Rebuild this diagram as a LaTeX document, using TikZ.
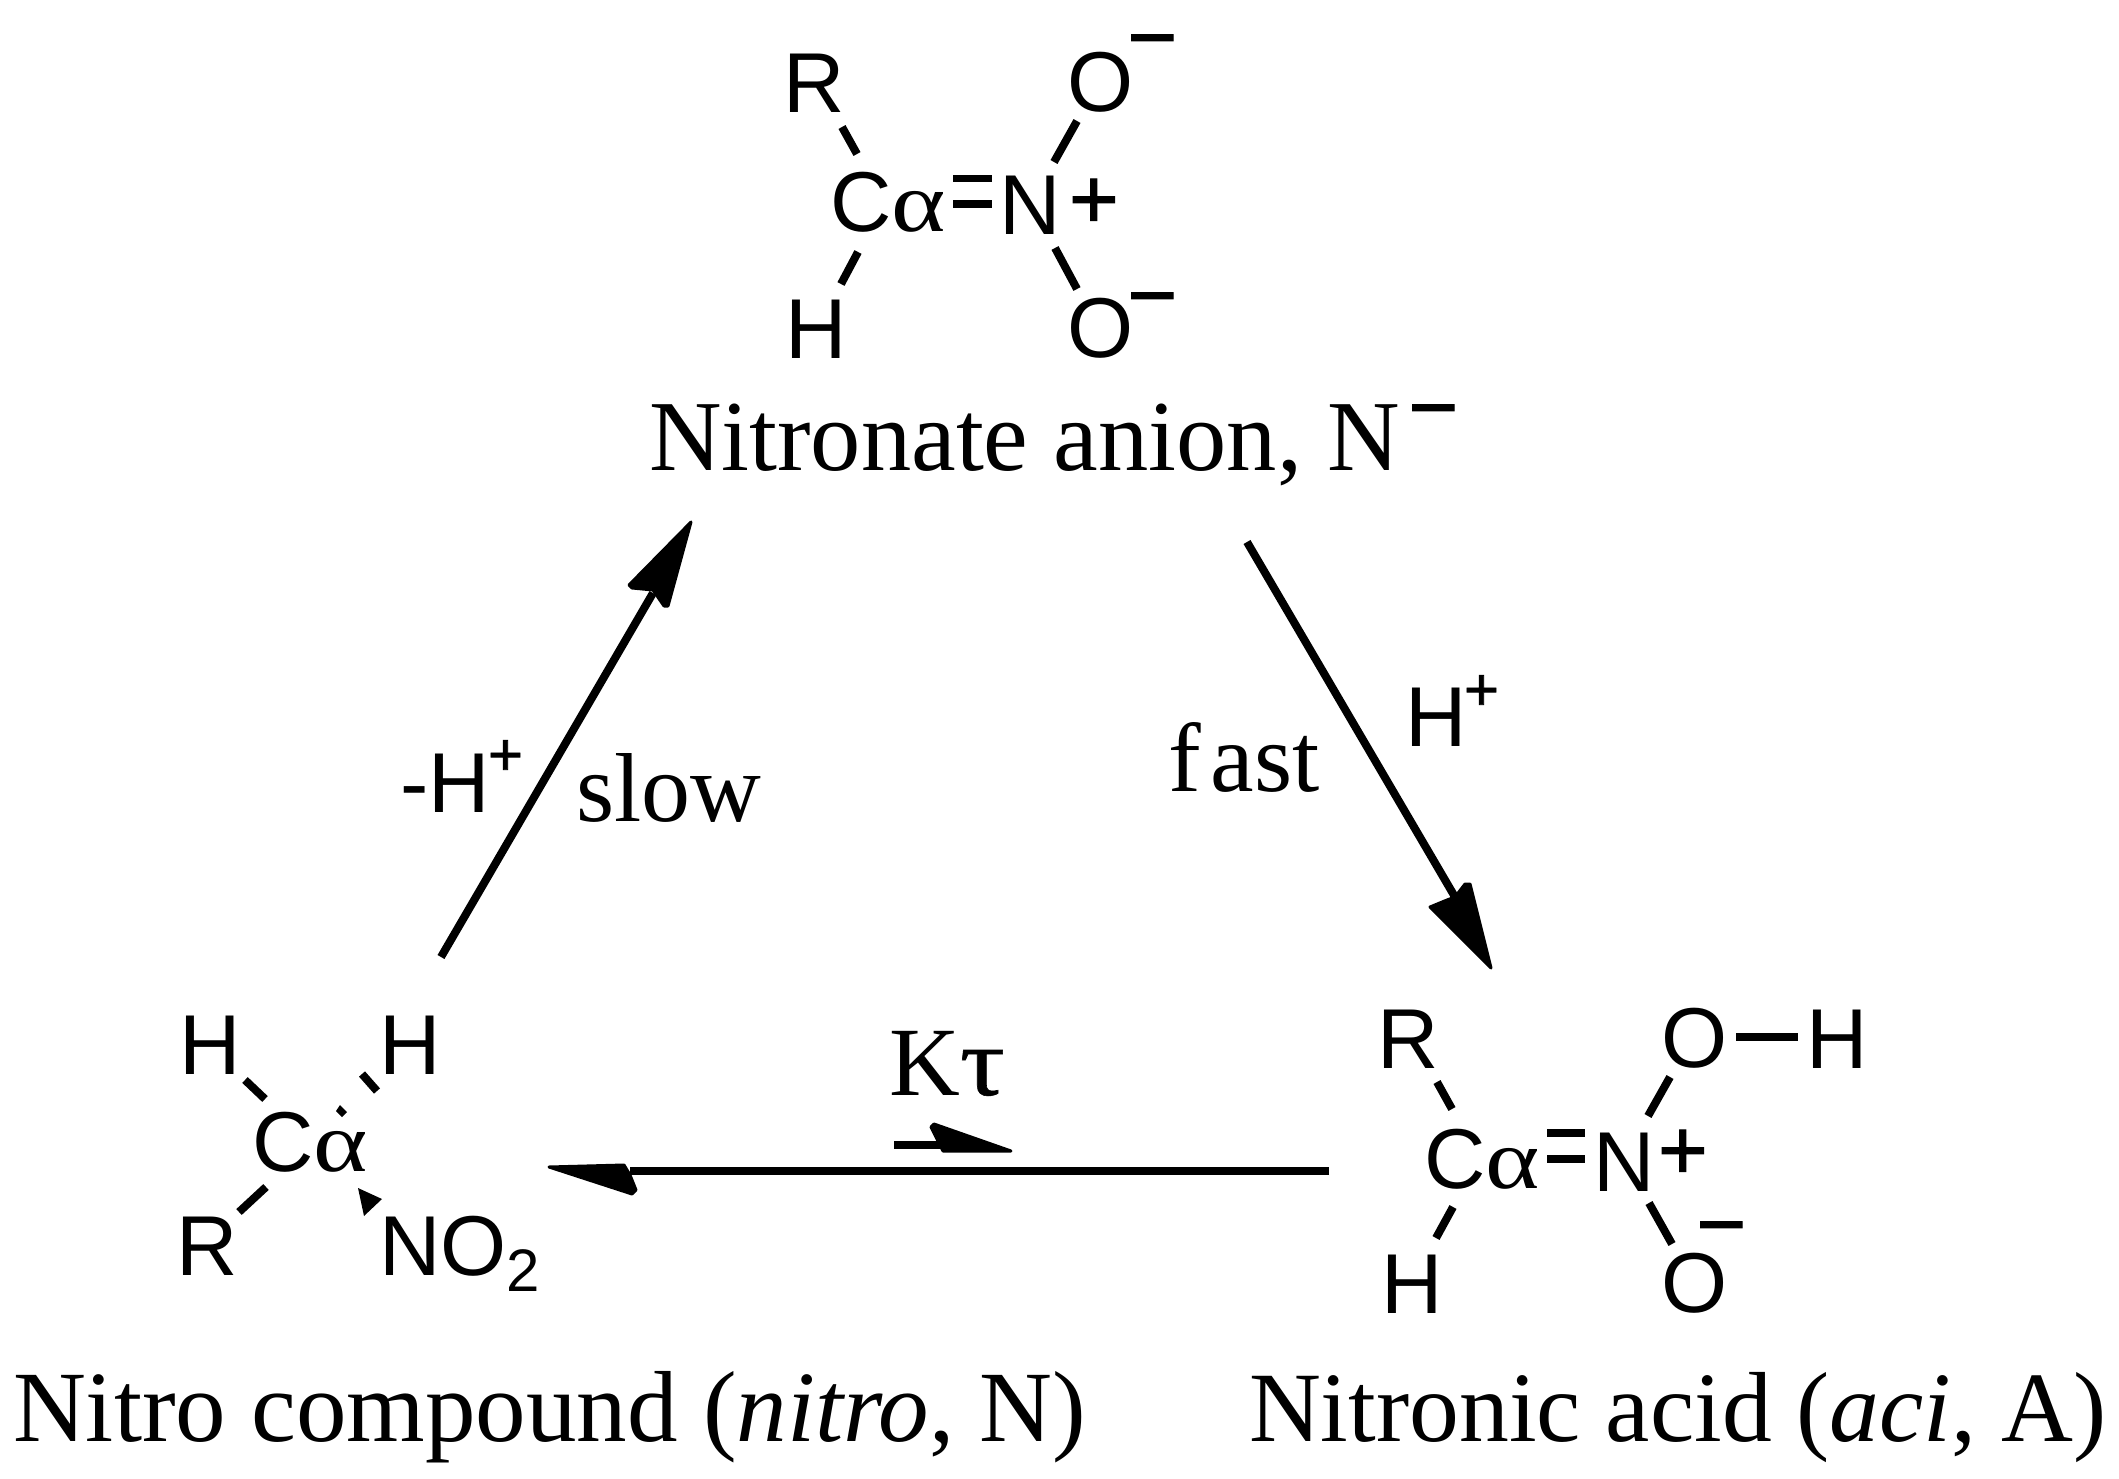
\documentclass[tikz,border=0pt]{standalone}
\usepackage{fontspec}
\setmainfont{Liberation Serif}
\newfontfamily\chemfont{Liberation Sans}
\newfontfamily\boldchem[FakeBold=1.3]{Liberation Sans}
\newfontfamily\alphafont[FakeStretch=1.22]{Liberation Serif}
\newfontfamily\taufont[FakeStretch=1.15,FakeBold=0.6]{Liberation Serif}
\newcommand{\chemsize}{\fontsize{85}{92}\selectfont}
\newcommand{\labsize}{\fontsize{98}{105}\selectfont}
\newcommand{\supsize}{\fontsize{60}{66}\selectfont}
\tikzset{
  every node/.style={inner sep=0pt, outer sep=0pt, anchor=base west},
  atom/.style={font=\chemfont\chemsize},
  charge/.style={font=\boldchem\chemsize},
  sup/.style={font=\boldchem\supsize},
  lab/.style={font=\labsize},
  bond/.style={line width=8pt},
  arrowline/.style={line width=8pt},
  head/.style={fill=black, draw=black, line width=3pt, line join=round}
}
\newcommand{\Calpha}{C{\alphafont\chemsize α}}
\begin{document}
\begin{tikzpicture}[x=1pt,y=-1pt]
\useasboundingbox (0,0) rectangle (2119,1479);
% Nitronate anion
\node[atom] (nR) at (783,113) {R};
\node[atom] (nC) at (830,232) {\Calpha};
\node[atom] (nN) at (999,235) {N};
\node[charge] (nP) at (1069,228) {+};
\node[atom] (nO1) at (1067,112) {O};
\node[atom] (nO2) at (1067,357) {O};
\node[atom] (nH) at (785,358) {H};
\node[charge] (nM1) at (1127.5,66) {−};
\node[charge] (nM2) at (1127.5,324) {−};
\coordinate (a1) at (842,127); \coordinate (a2) at (857,154);
\coordinate (a3) at (858,252); \coordinate (a4) at (841,284);
\coordinate (a5) at (1077,121); \coordinate (a6) at (1054,162);
\coordinate (a7) at (1055,248); \coordinate (a8) at (1077,289);
\draw[bond] (a1) -- (a2); \draw[bond] (a3) -- (a4);
\draw[bond] (a5) -- (a6); \draw[bond] (a7) -- (a8);
\fill (953,175) rectangle (992,182.5);
\fill (953,200) rectangle (992,208);
\node[font=\fontsize{100.5}{105}\selectfont] (nlab) at (649,470) {Nitronate anion, N};
\node[charge] (nlabm) at (1408.5,436) {−};
% Nitro compound
\node[atom] (cH1) at (179,1074) {H};
\node[atom] (cH2) at (379,1074) {H};
\node[atom] (cC) at (252,1171) {\Calpha};
\node[atom] (cR) at (176,1275) {R};
\node[atom] (cN) at (379,1275) {NO\raisebox{-16pt}{\fontsize{60}{62}\selectfont 2}};
\coordinate (b1) at (245,1080); \coordinate (b2) at (265,1099);
\coordinate (b3) at (362,1074); \coordinate (b4) at (377,1091);
\coordinate (b5) at (266,1187); \coordinate (b6) at (239,1212);
\draw[bond] (b1) -- (b2); \draw[bond] (b3) -- (b4); \draw[bond] (b5) -- (b6);
\fill (340,1105) -- (347,1112) -- (342,1117) -- (336,1111) -- cycle;
\fill (358,1188) -- (382,1199) -- (364,1216) -- cycle;
\node[font=\fontsize{101}{106}\selectfont] (clab) at (13,1441) {Nitro compound (\textit{nitro}, N)};
% Nitronic acid
\node[atom] (aR) at (1377,1068) {R};
\node[atom] (aC) at (1424,1188) {\Calpha};
\node[atom] (aN) at (1593,1191) {N};
\node[charge] (aP) at (1658,1179) {+};
\node[atom] (aO1) at (1661,1067) {O};
\node[atom] (aO2) at (1661,1312) {O};
\node[atom] (aH1) at (1806,1068) {H};
\node[atom] (aH2) at (1381,1313) {H};
\node[charge] (aM) at (1696.5,1253) {−};
\coordinate (c1) at (1437,1082); \coordinate (c2) at (1452,1109);
\coordinate (c3) at (1453,1207); \coordinate (c4) at (1436,1238);
\coordinate (c5) at (1670,1077); \coordinate (c6) at (1648,1116);
\coordinate (c7) at (1649,1203); \coordinate (c8) at (1672,1244);
\coordinate (c9) at (1736,1036.5); \coordinate (c10) at (1798,1036.5);
\draw[bond] (c1) -- (c2); \draw[bond] (c3) -- (c4);
\draw[bond] (c5) -- (c6); \draw[bond] (c7) -- (c8);
\draw[bond] (c9) -- (c10);
\fill (1547,1129) rectangle (1585,1137);
\fill (1547,1155) rectangle (1585,1163);
\node[font=\fontsize{99.6}{105}\selectfont] (alab) at (1249,1441) {Nitronic acid (\textit{aci}, A)};
% Arrows
\coordinate (s1) at (441,957); \coordinate (e1) at (653,593);
\draw[arrowline] (s1) -- (e1);
\filldraw[head] (691,522) -- (629,585) -- (632,588) -- (653,590) -- (664,606) -- (668,606) -- cycle;
\coordinate (s2) at (1247,542); \coordinate (e2) at (1455,897);
\draw[arrowline] (s2) -- (e2);
\filldraw[head] (1491,968) -- (1430,907) -- (1447,900) -- (1455,897) -- (1465,884) -- (1470,884) -- cycle;
\coordinate (s3) at (1329,1171); \coordinate (e3) at (630,1171);
\draw[arrowline] (s3) -- (e3);
\filldraw[head] (549,1167) -- (624,1165) -- (630,1175) -- (636,1190) -- (632,1194) -- cycle;
\coordinate (s4) at (894,1145); \coordinate (e4) at (945,1145);
\draw[arrowline] (s4) -- (e4);
\filldraw[head] (1011,1151) -- (943,1151) -- (935,1135) -- (931,1127) -- (934,1124) -- cycle;
% Labels
\node[lab] (kt) at (889,1095) {K{\taufont\labsize τ}};
\node[lab] (slow) at (576,821) {slow};
\node[lab] (fast) at (1168,791) {f\kern 10pt ast};
\node[atom] (mh) at (400.5,812) {-H};
\node[sup] (mhp) at (488,775) {+};
\node[atom] (hp) at (1405,746) {H};
\node[sup] (hpp) at (1464,710) {+};
\end{tikzpicture}
\end{document}
